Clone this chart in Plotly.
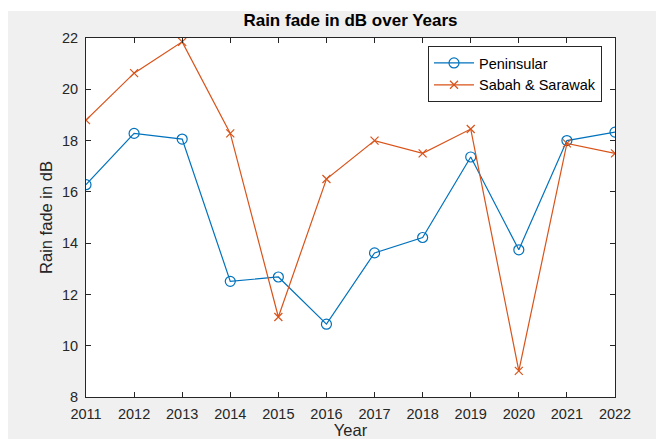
import plotly.graph_objects as go

years = [2011, 2012, 2013, 2014, 2015, 2016, 2017, 2018, 2019, 2020, 2021, 2022]
peninsular = [16.28, 18.28, 18.06, 12.51, 12.68, 10.84, 13.62, 14.22, 17.36, 13.74, 18.0, 18.33]
sabah_sarawak = [18.8, 20.63, 21.85, 18.28, 11.12, 16.5, 18.0, 17.5, 18.45, 9.02, 17.89, 17.5]

BLUE = "#0072BD"
ORANGE = "#D95319"
AX = "#262626"
FONT = "Liberation Sans, Arial, sans-serif"

W, H = 656, 439
L, R, T, B = 86, 41, 38, 42
pw = W - L - R
ph = H - T - B

fig = go.Figure()
fig.add_trace(go.Scatter(
    x=years, y=peninsular, mode="lines+markers", name="Peninsular",
    line=dict(color=BLUE, width=1.2),
    marker=dict(symbol="circle-open", size=10, color=BLUE, line=dict(width=1.2)),
))
fig.add_trace(go.Scatter(
    x=years, y=sabah_sarawak, mode="lines+markers", name="Sabah & Sarawak",
    line=dict(color=ORANGE, width=1.2),
    marker=dict(symbol="x-thin-open", size=8, color=ORANGE, line=dict(width=1.2, color=ORANGE)),
))

axis_common = dict(
    showgrid=False, zeroline=False, showline=True, linecolor=AX, linewidth=1,
    mirror="ticks", ticks="inside", ticklen=5, tickcolor=AX, automargin=False,
    tickfont=dict(family=FONT, size=14.5, color=AX),
)

fig.update_layout(
    width=W, height=H,
    margin=dict(l=L, r=R, t=T, b=B, autoexpand=False),
    paper_bgcolor="#f0f0f0",
    plot_bgcolor="white",
    font=dict(family=FONT, color=AX),
    title=dict(text="<b>Rain fade in dB over Years</b>", x=(L + pw / 2) / W, xanchor="center",
               y=1 - 20 / H, yanchor="middle", font=dict(family=FONT, size=17, color="black")),
    xaxis=dict(range=[2011, 2022], tickmode="array", tickvals=years,
               ticktext=[str(y) for y in years], ticklabelstandoff=4,
               title=dict(text="Year", font=dict(family=FONT, size=16.5, color=AX), standoff=3),
               **axis_common),
    yaxis=dict(range=[8, 22], tickmode="array", tickvals=[8, 10, 12, 14, 16, 18, 20, 22],
               ticklabelstandoff=4,
               title=dict(text="Rain fade in dB", font=dict(family=FONT, size=16.5, color=AX), standoff=5),
               **axis_common),
    legend=dict(x=(602 - L) / pw, xanchor="right", y=1 - (46 - T) / ph, yanchor="top",
                bgcolor="white", bordercolor=AX, borderwidth=1,
                font=dict(family=FONT, size=14.5, color="black"),
                tracegroupgap=0, itemwidth=40),
    showlegend=True,
)

# white border strips on top and left of the figure background
fig.add_shape(type="rect", xref="paper", yref="paper",
              x0=-L / pw - 0.01, x1=-(L - 8) / pw, y0=-B / ph - 0.01, y1=1 + T / ph + 0.01,
              fillcolor="white", line=dict(width=0), layer="below")
fig.add_shape(type="rect", xref="paper", yref="paper",
              x0=-L / pw - 0.01, x1=1 + R / pw + 0.01, y0=1 + (T - 11) / ph, y1=1 + T / ph + 0.01,
              fillcolor="white", line=dict(width=0), layer="below")

fig.write_html("out.html")
